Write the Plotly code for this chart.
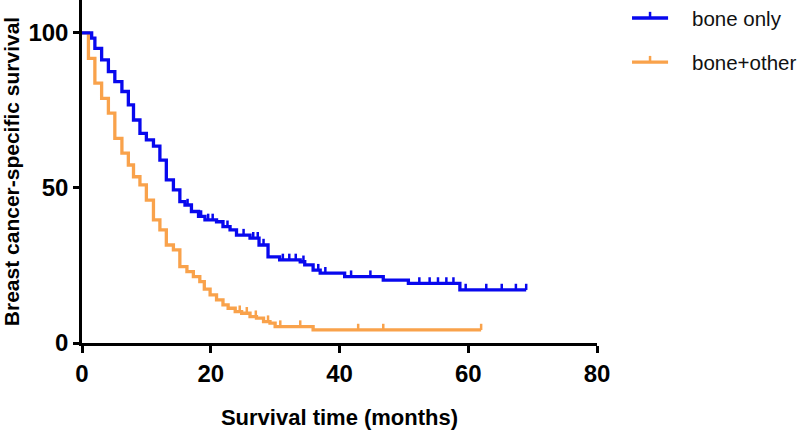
import numpy as np
import plotly.graph_objects as go

# ---- data ----
series_names = ["bone only", "bone+other"]

bone_only_t = [0, 1.5, 2.0, 3.05, 4.1, 5.1, 6.2, 7.2, 8.0, 9.0, 10.0, 11.1, 12.1, 13.1, 14.2,
               15.2, 16.0, 17.0, 18.1, 19.1, 20.9, 21.9, 23.0, 24.0, 26.1, 27.5, 28.9, 30.7,
               33.9, 34.6, 35.9, 37.0, 40.8, 46.8, 50.7, 58.7]
bone_only_s = [100, 98.3, 95.0, 91.3, 87.5, 84.3, 81.1, 76.8, 71.9, 67.6, 65.5, 63.5, 59.0, 52.6, 49.4,
               45.6, 44.5, 42.4, 40.8, 39.7, 39.1, 37.5, 36.5, 34.8, 33.8, 31.6, 27.8, 26.8,
               26.2, 25.2, 23.5, 22.5, 21.4, 20.3, 19.2, 17.1]
bone_only_end = 69.0
bone_only_censor = [16.4, 18.5, 19.6, 20.3, 22.6, 25.1, 26.6, 27.3, 28.2, 31.2, 32.2, 33.2,
                    34.4, 36.7, 37.8, 41.8, 44.8, 52.4, 54.0, 55.3, 56.6, 57.7, 59.6, 62.8,
                    65.2, 67.4, 69.0]

bone_other_t = [0, 1.0, 2.0, 3.05, 4.1, 5.1, 6.2, 7.2, 8.0, 9.0, 10.0, 11.1, 12.1, 13.1, 14.2,
                15.2, 16.3, 17.3, 18.3, 19.0, 19.9, 20.9, 21.9, 22.7, 23.8, 24.8, 26.1, 27.1,
                28.2, 29.2, 30.0, 35.9]
bone_other_s = [100, 91.8, 83.8, 78.9, 74.1, 66.0, 61.2, 57.4, 53.6, 51.0, 46.1, 39.7, 36.5, 31.6, 30.0,
                24.6, 23.0, 21.4, 19.8, 17.4, 15.5, 13.9, 12.3, 11.2, 10.1, 9.6, 8.5, 8.0,
                6.9, 6.4, 5.3, 4.2]
bone_other_end = 62.0
bone_other_censor = [24.5, 25.6, 27.0, 28.9, 30.8, 33.9, 42.9, 46.8, 62.0]

x_ticks = [0, 20, 40, 60, 80]
y_ticks = [0, 50, 100]

colors = ["#0808ee", "#f9a24b"]
TICK_UP = 2.0  # censor-tick height in % units

def step_xy(t, s, end):
    return list(t) + [end], list(s) + [s[-1]]

def censor_segments(t, s, ct):
    t = np.asarray(t); s = np.asarray(s)
    xs, ys = [], []
    for c in ct:
        idx = np.searchsorted(t, c, side="right") - 1
        lvl = s[idx]
        xs += [c, c, None]
        ys += [lvl, lvl + TICK_UP, None]
    return xs, ys

fig = go.Figure()
data = [(bone_other_t, bone_other_s, bone_other_end, bone_other_censor, colors[1]),
        (bone_only_t, bone_only_s, bone_only_end, bone_only_censor, colors[0])]
for t, s, end, ct, col in data:
    x, y = step_xy(t, s, end)
    fig.add_trace(go.Scatter(x=x, y=y, mode="lines", line=dict(color=col, width=3.3, shape="hv"),
                             showlegend=False, hoverinfo="skip"))
    cx, cy = censor_segments(t, s, ct)
    fig.add_trace(go.Scatter(x=cx, y=cy, mode="lines", line=dict(color=col, width=2.5),
                             showlegend=False, hoverinfo="skip"))

FONT = "Liberation Sans, Arial, sans-serif"

# manual legend
shapes = []
annotations = []
leg_y = [0.9475, 0.819]
for name, col, ly in zip(series_names, colors, leg_y):
    shapes.append(dict(type="line", xref="paper", yref="paper", x0=1.068, x1=1.138, y0=ly, y1=ly,
                       line=dict(color=col, width=3.3)))
    shapes.append(dict(type="line", xref="paper", yref="paper", x0=1.103, x1=1.103, y0=ly, y1=ly + 0.018,
                       line=dict(color=col, width=2.5)))
    annotations.append(dict(text=name, xref="paper", yref="paper", x=1.181, y=ly, xanchor="left",
                            yanchor="middle", showarrow=False,
                            font=dict(family=FONT, size=20.5, color="#111")))

fig.update_layout(
    width=800, height=434,
    margin=dict(l=82, r=203, t=0, b=91, autoexpand=False),
    paper_bgcolor="white", plot_bgcolor="white",
    shapes=shapes, annotations=annotations,
    xaxis=dict(range=[0, 80], tickvals=x_ticks, showgrid=False, zeroline=False, automargin=False,
               showline=True, linecolor="black", linewidth=2.5,
               ticks="outside", ticklen=7, tickwidth=2.5, tickcolor="black",
               tickfont=dict(family=FONT, size=24, color="black", weight="bold"),
               title=dict(text="Survival time (months)", standoff=25,
                          font=dict(family=FONT, size=22, color="black", weight="bold"))),
    yaxis=dict(range=[0, 110.6], tickvals=y_ticks, showgrid=False, zeroline=False, automargin=False,
               showline=True, linecolor="black", linewidth=2.5,
               ticks="outside", ticklen=6, tickwidth=2.5, tickcolor="black",
               tickfont=dict(family=FONT, size=24, color="black", weight="bold"),
               title=dict(text="Breast cancer-specific survival", standoff=4,
                          font=dict(family=FONT, size=21, color="black", weight="bold"))),
)

fig.write_html("out.html", config={"displayModeBar": False},
               post_script="document.body.style.margin='0';")
